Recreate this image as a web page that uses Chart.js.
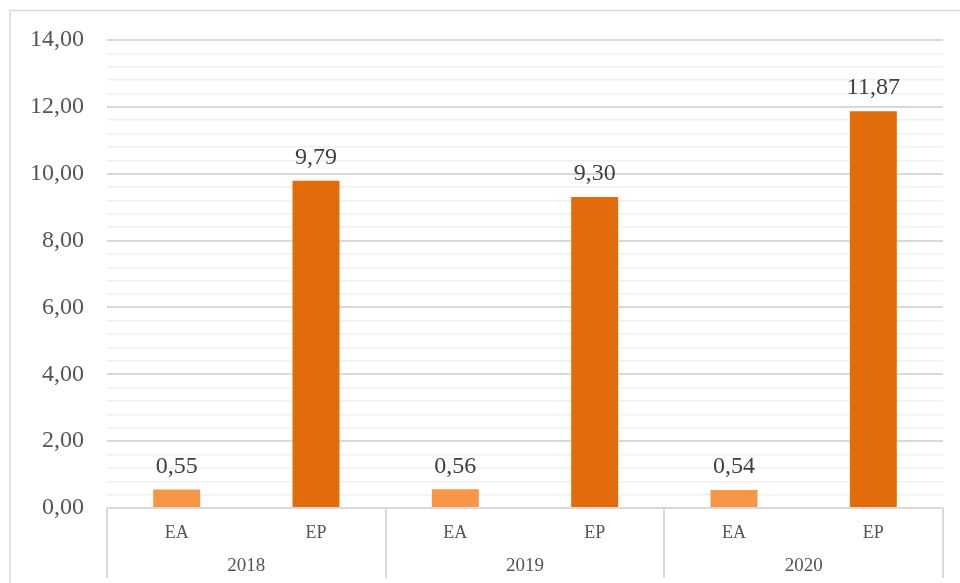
<!DOCTYPE html>
<html>
<head>
<meta charset="utf-8">
<script src="https://cdn.jsdelivr.net/npm/chart.js@4/dist/chart.umd.min.js"></script>
<style>
  html, body { margin: 0; padding: 0; background: #fff; }
  #wrap { width: 960px; height: 583px; position: relative; }
</style>
</head>
<body>
<div id="wrap"><canvas id="chart"></canvas></div>
<script>
// Data
const years = ['2018', '2019', '2020'];
const types = ['EA', 'EP'];
const labels = ['EA', 'EP', 'EA', 'EP', 'EA', 'EP'];
const values = [0.55, 9.79, 0.56, 9.30, 0.54, 11.87];
const typeColors = { EA: '#F79646', EP: '#E36C0A' };

const FONT = "'Liberation Serif', 'DejaVu Serif', serif";

function fmt(v) {
    return v.toFixed(2).replace('.', ',');
}

function isMajor(v) {
    return Math.abs(v / 2 - Math.round(v / 2)) < 1e-6;
}

// Frame, group separators and year labels
const groupPlugin = {
    id: 'groups',
    afterDraw(chart) {
        const ctx = chart.ctx;
        const area = chart.chartArea;
        const x = chart.scales.x;
        const step = x.getPixelForValue(1) - x.getPixelForValue(0);
        ctx.save();
        ctx.strokeStyle = '#d9d9d9';
        ctx.lineWidth = 1.5;
        // outer frame
        ctx.beginPath();
        ctx.moveTo(10, 583);
        ctx.lineTo(10, 10.5);
        ctx.lineTo(960, 10.5);
        ctx.stroke();
        // separators between years
        ctx.lineWidth = 2;
        for (let g = 0; g <= years.length; g++) {
            const px = x.getPixelForValue(g * types.length) - step / 2;
            ctx.beginPath();
            ctx.moveTo(Math.round(px), area.bottom);
            ctx.lineTo(Math.round(px), 578);
            ctx.stroke();
        }
        // year labels
        ctx.fillStyle = '#555555';
        ctx.font = '19px ' + FONT;
        ctx.textAlign = 'center';
        ctx.textBaseline = 'middle';
        years.forEach((yr, g) => {
            const a = x.getPixelForValue(g * types.length);
            const b = x.getPixelForValue(g * types.length + types.length - 1);
            ctx.fillText(yr, (a + b) / 2, 566);
        });
        ctx.restore();
    }
};

// Value labels above bars
const valuePlugin = {
    id: 'values',
    afterDatasetsDraw(chart) {
        const ctx = chart.ctx;
        const meta = chart.getDatasetMeta(0);
        ctx.save();
        ctx.fillStyle = '#404040';
        ctx.font = '24px ' + FONT;
        ctx.textAlign = 'center';
        ctx.textBaseline = 'bottom';
        meta.data.forEach((bar, i) => {
            ctx.fillText(fmt(values[i]), bar.x, bar.y - 11);
        });
        ctx.restore();
    }
};

new Chart(document.getElementById('chart'), {
    type: 'bar',
    data: {
        labels: labels,
        datasets: [{
            data: values,
            backgroundColor: labels.map(l => typeColors[l]),
            borderWidth: 0,
            categoryPercentage: 1,
            barPercentage: 0.337
        }]
    },
    options: {
        responsive: true,
        maintainAspectRatio: false,
        animation: false,
        events: [],
        layout: {
            padding: { left: 0, right: 17, top: 40, bottom: 0 }
        },
        plugins: {
            legend: { display: false },
            tooltip: { enabled: false }
        },
        scales: {
            x: {
                grid: { display: false },
                border: { display: false },
                ticks: {
                    color: '#555555',
                    font: { family: FONT, size: 18 },
                    padding: 6
                },
                afterFit(scale) {
                    scale.height = 75;
                }
            },
            y: {
                min: 0,
                max: 14,
                border: { display: false },
                grid: {
                    drawTicks: false,
                    color: ctx => isMajor(ctx.tick.value) ? '#d9d9d9' : '#f0f0f0',
                    lineWidth: ctx => isMajor(ctx.tick.value) ? 2 : 1.5
                },
                ticks: {
                    stepSize: 0.4,
                    maxTicksLimit: 50,
                    autoSkip: false,
                    color: '#555555',
                    font: { family: FONT, size: 24 },
                    padding: 23,
                    callback: v => isMajor(v) ? fmt(v) : ''
                },
                afterFit(scale) {
                    scale.width = 107;
                }
            }
        }
    },
    plugins: [groupPlugin, valuePlugin]
});
</script>
</body>
</html>
